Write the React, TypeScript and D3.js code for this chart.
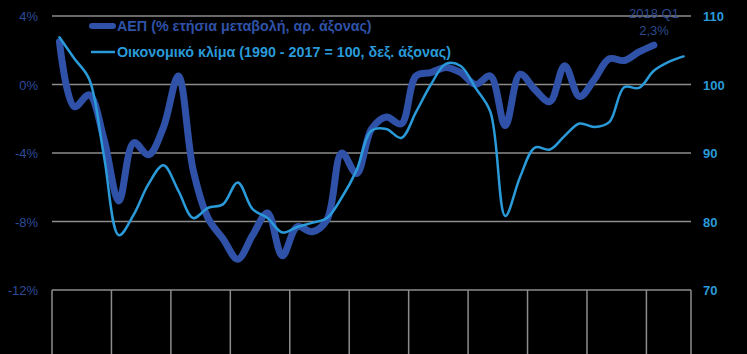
import React from "react";
import * as d3 from "d3";

const quarters: string[] = [];
for (let y = 2008; y <= 2018; y++) for (let q = 1; q <= 4; q++) quarters.push(`${y} Q${q}`);
const categories = quarters.slice(0, 43);

const gdp = [
  2.5, -1.3, -0.6, -3.2, -6.8, -3.4, -4.1, -2.5, 0.5, -5.0,
  -7.8, -9.0, -10.2, -8.8, -7.5, -10.0, -8.3, -8.6, -7.9, -4.0,
  -5.2, -2.6, -1.9, -2.3, 0.5, 0.7, 1.0, 0.7, 0.0, 0.5,
  -2.4, 0.6, -0.3, -1.0, 1.1, -0.7, 0.3, 1.5, 1.4, 1.9,
  2.3,
];

const climate = [
  106.9, 103.8, 100.8, 89.5, 78.0, 81.0, 85.5, 88.2, 84.5, 80.5,
  82.0, 82.5, 85.7, 81.8, 80.5, 78.4, 79.2, 79.8, 80.5, 83.5,
  87.5, 93.3, 93.5, 92.2, 96.0, 100.0, 103.0, 102.7, 99.5, 96.0,
  80.8, 86.5, 90.8, 90.5, 92.5, 94.3, 93.8, 94.5, 99.6, 99.5,
  102.0, 103.3, 104.1,
];

const leftTicks = [4, 0, -4, -8, -12];
const rightTicks = [110, 100, 90, 80, 70];
const yearTicks = d3.range(2008, 2019);

const W = 747, H = 354;
const L = 52, R = 691, T = 16, B = 290;

export default function App() {
  const x = d3.scaleBand<string>().domain(categories).range([L, R]);
  const xc = (i: number) => (x(categories[i]) as number) + x.bandwidth() / 2;
  const yL = d3.scaleLinear().domain([-12, 4]).range([B, T]);
  const yR = d3.scaleLinear().domain([70, 110]).range([B, T]);

  const gdpLine = d3.line<number>().x((_, i) => xc(i)).y((d) => yL(d)).curve(d3.curveCatmullRom.alpha(0.5));
  const climLine = d3.line<number>().x((_, i) => xc(i)).y((d) => yR(d)).curve(d3.curveCatmullRom.alpha(0.5));

  const grid = "#8c8c8c";
  const gdpColor = "#2f52a8";
  const climColor = "#2a9ad9";
  const font = "Liberation Sans, Arial, sans-serif";

  return (
    <svg width={W} height={H} style={{ position: "absolute", left: 0, top: 0, background: "#000" }}>
      <rect x={0} y={0} width={W} height={H} fill="#000" />
      {leftTicks.map((t) => (
        <line key={t} x1={L} x2={R} y1={yL(t)} y2={yL(t)} stroke={grid} strokeWidth={1.5} />
      ))}
      {yearTicks.map((yr) => {
        const xx = x(`${yr} Q1`) as number;
        return <line key={yr} x1={xx} x2={xx} y1={B} y2={H} stroke={grid} strokeWidth={1.5} />;
      })}
      <line x1={R} x2={R} y1={B} y2={H} stroke={grid} strokeWidth={1.5} />
      {leftTicks.map((t) => (
        <text key={t} x={38} y={yL(t) + 5} textAnchor="end" fill="#2e4b9a" fontFamily={font} fontSize={13}>
          {`${t}%`}
        </text>
      ))}
      {rightTicks.map((t) => (
        <text key={t} x={703} y={yR(t) + 5} textAnchor="start" fill={climColor} fontFamily={font} fontSize={13} fontWeight="bold">
          {t}
        </text>
      ))}
      <path d={gdpLine(gdp) || ""} fill="none" stroke={gdpColor} strokeWidth={7} strokeLinecap="round" strokeLinejoin="round" />
      <path d={climLine(climate) || ""} fill="none" stroke={climColor} strokeWidth={2.5} strokeLinecap="round" strokeLinejoin="round" />
      <line x1={92} x2={113} y1={26} y2={26} stroke={gdpColor} strokeWidth={6} strokeLinecap="round" />
      <text x={117} y={31} fill={gdpColor} fontFamily={font} fontSize={14.3} fontWeight="bold">
        ΑΕΠ (% ετήσια μεταβολή, αρ. άξονας)
      </text>
      <line x1={91} x2={115} y1={52} y2={52} stroke={climColor} strokeWidth={2.5} />
      <text x={117} y={57} fill={climColor} fontFamily={font} fontSize={14.3} fontWeight="bold">
        Οικονομικό κλίμα (1990 - 2017 = 100, δεξ. άξονας)
      </text>
      <text x={654} y={18} textAnchor="middle" fill="#2e4a8e" fontFamily={font} fontSize={13}>
        2018 Q1
      </text>
      <text x={654} y={35} textAnchor="middle" fill="#2e4a8e" fontFamily={font} fontSize={13}>
        2,3%
      </text>
    </svg>
  );
}
